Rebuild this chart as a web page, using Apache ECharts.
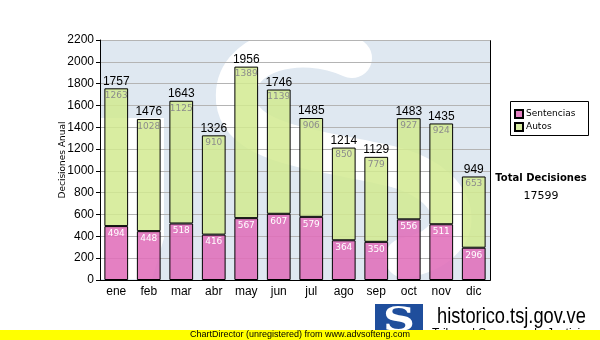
<!DOCTYPE html>
<html><head><meta charset="utf-8">
<script src="https://cdn.jsdelivr.net/npm/echarts@6/dist/echarts.min.js"></script>
<style>html,body{margin:0;padding:0;background:#fff}#c{width:600px;height:340px}</style>
</head><body><div id="c"></div>
<script>
var categories = ['ene','feb','mar','abr','may','jun','jul','ago','sep','oct','nov','dic'];
var sentencias = [494,448,518,416,567,607,579,364,350,556,511,296];
var autos = [1263,1028,1125,910,1389,1139,906,850,779,927,924,653];
var totals = [1757,1476,1643,1326,1956,1746,1485,1214,1129,1483,1435,949];
var yTicks = {min:0, max:2200, interval:200};
var totalDecisiones = 17599;

var chart = echarts.init(document.getElementById('c'), null, {renderer:'canvas'});
var axisFont = 'Liberation Sans, Arial, sans-serif';
var vFont = 'DejaVu Sans, Verdana, sans-serif';
function curve(x1,y1,c1x,c1y,c2x,c2y,x2,y2){
  return {type:'bezierCurve', z:1, shape:{x1:x1,y1:y1,cpx1:c1x,cpy1:c1y,cpx2:c2x,cpy2:c2y,x2:x2,y2:y2},
    style:{fill:null, stroke:'#ffffff', lineWidth:40, lineCap:'round'}};
}
chart.setOption({
  animation:false,
  grid:{left:100, right:110, top:40, bottom:60, show:true, backgroundColor:'#dfe8f1', borderWidth:0, z:0},
  graphic:[
    curve(352,58, 300,34, 232,52, 236,100),
    curve(236,100, 240,148, 330,150, 398,168),
    curve(398,168, 466,188, 470,246, 405,258),
    {type:'polygon', z:1, shape:{points:[[101,118],[164,118],[164,238],[152,279],[101,279]]}, style:{fill:'#ffffff'}},
    {type:'rect', z:1, shape:{x:0,y:0,width:600,height:40}, style:{fill:'#fff'}},
    {type:'rect', z:1, shape:{x:490.5,y:0,width:110,height:280}, style:{fill:'#fff'}},
    {type:'rect', z:2, shape:{x:100.5,y:40.5,width:390,height:240}, style:{fill:null, stroke:'#000', lineWidth:1}},
    {type:'rect', z:5, shape:{x:510.5,y:101.5,width:78,height:34}, style:{fill:'#fff', stroke:'#000', lineWidth:1}},
    {type:'text', z:6, x:541, y:178, style:{text:'Total Decisiones', font:'bold 10px DejaVu Sans', fill:'#000', align:'center', verticalAlign:'middle'}},
    {type:'text', z:6, x:541, y:196, style:{text:String(totalDecisiones), font:'11px DejaVu Sans', fill:'#000', align:'center', verticalAlign:'middle'}},
    {type:'rect', z:6, shape:{x:375,y:304,width:48,height:28}, style:{fill:'#1f4e9c'}},
    {type:'text', z:7, x:399, y:322, scaleX:1.3, style:{text:'S', font:'bold 34px DejaVu Serif', fill:'#fff', align:'center', verticalAlign:'middle'}},
    {type:'text', z:6, x:437, y:317, scaleX:0.83, style:{text:'historico.tsj.gov.ve', font:'22px Liberation Sans', fill:'#000', align:'left', verticalAlign:'middle'}},
    {type:'text', z:6, x:432, y:334, style:{text:'Tribunal Supremo de Justicia', font:'12px Liberation Sans', fill:'#000', align:'left', verticalAlign:'middle'}},
    {type:'rect', z:8, shape:{x:0,y:330,width:600,height:10}, style:{fill:'#ffff00'}},
    {type:'text', z:9, x:300, y:335, style:{text:'ChartDirector (unregistered) from www.advsofteng.com', font:'9px Liberation Sans', fill:'#000', align:'center', verticalAlign:'middle'}}
  ],
  legend:{data:['Sentencias','Autos'], orient:'vertical', left:514, top:109, padding:0, itemWidth:8, itemHeight:8, itemGap:3, z:6,
    textStyle:{fontFamily:vFont, fontSize:9, color:'#000', padding:[0,0,0,-2]},
    icon:'rect'},
  xAxis:{type:'category', data:categories, z:2,
    axisLine:{lineStyle:{color:'#000'}}, axisTick:{alignWithLabel:true, length:4, lineStyle:{color:'#000'}},
    axisLabel:{fontFamily:axisFont, fontSize:12, color:'#000', margin:6}},
  yAxis:{type:'value', min:yTicks.min, max:yTicks.max, interval:yTicks.interval, z:2,
    name:'Decisiones Anual', nameLocation:'middle', nameGap:33, nameRotate:90, nameMoveOverlap:false,
    nameTextStyle:{fontFamily:vFont, fontSize:9, color:'#000'},
    axisLine:{show:true, lineStyle:{color:'#000'}}, axisTick:{show:true, length:4, lineStyle:{color:'#000'}},
    axisLabel:{fontFamily:axisFont, fontSize:12, color:'#000', margin:6, formatter:function(v){return String(v);}},
    splitLine:{lineStyle:{color:'#b4b4b4'}}},
  series:[
    {name:'Sentencias', type:'bar', stack:'a', data:sentencias, barWidth:'73%', z:3,
      itemStyle:{color:'rgba(224,110,185,0.88)', borderColor:'#000', borderWidth:1},
      label:{show:true, position:'insideTop', distance:3, color:'#fff', fontFamily:vFont, fontSize:9}},
    {name:'Autos', type:'bar', stack:'a', data:autos, barWidth:'73%', z:3,
      itemStyle:{color:'rgba(210,234,145,0.85)', borderColor:'#000', borderWidth:1},
      label:{show:true, position:'insideTop', distance:3, color:'#8c8c8c', fontFamily:vFont, fontSize:9}},
    {name:'Total', type:'bar', stack:'a', data:totals.map(function(){return 0;}), barWidth:'73%', z:3,
      itemStyle:{color:'transparent', borderWidth:0},
      label:{show:true, position:'top', distance:1, color:'#000', fontFamily:axisFont, fontSize:12,
        formatter:function(p){return totals[p.dataIndex];}}}
  ]
});
</script></body></html>
